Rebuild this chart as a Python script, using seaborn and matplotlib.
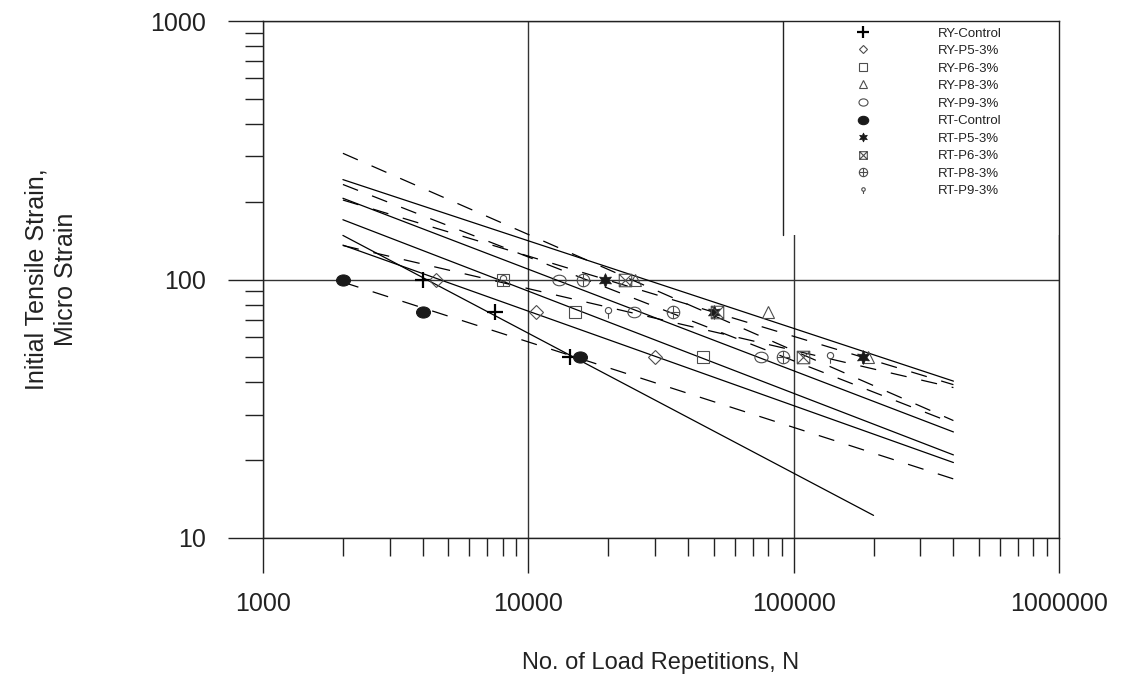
import numpy as np
import pandas as pd
import matplotlib
matplotlib.use('Agg')
import matplotlib.pyplot as plt
import seaborn as sns
from matplotlib.path import Path
from matplotlib.lines import Line2D
from matplotlib.patches import Rectangle
from matplotlib.ticker import FixedLocator, LogLocator, NullFormatter, FuncFormatter

# strain levels (micro strain) and load repetitions
strain = [100, 75, 50]

ry_control = [4000, 7500, 14400]
ry_p5 = [4500, 10700, 30100]
ry_p6 = [8000, 15000, 45400]
ry_p8 = [25300, 79800, 190000]
ry_p9 = [13000, 25100, 75000]
rt_control = [2000, 4000, 15700]
rt_p5 = [19500, 49900, 182000]
rt_p6 = [23200, 51600, 108000]
rt_p8 = [16100, 35200, 90800]
rt_p9 = [8000, 20000, 137000]

series_names = ['RY-Control', 'RY-P5-3%', 'RY-P6-3%', 'RY-P8-3%', 'RY-P9-3%',
                'RT-Control', 'RT-P5-3%', 'RT-P6-3%', 'RT-P8-3%', 'RT-P9-3%']
series_reps = [ry_control, ry_p5, ry_p6, ry_p8, ry_p9,
               rt_control, rt_p5, rt_p6, rt_p8, rt_p9]

# range over which each fatigue line is drawn
fit_start = [2000] * 10
fit_end = [200000, 400000, 400000, 400000, 400000,
           400000, 400000, 400000, 400000, 400000]

x_ticks = [1000, 10000, 100000, 1000000]
y_ticks = [10, 100, 1000]


# ---- custom marker shapes
circ = Path.unit_circle()
ellipse = Path(circ.vertices * [1.0, 0.8], circ.codes)
box_x = Path([[-1, -1], [1, -1], [1, 1], [-1, 1], [-1, -1], [1, 1], [-1, 1], [1, -1]],
             [1, 2, 2, 2, 2, 2, 1, 2])
circle_plus = Path.make_compound_path(circ,
                                      Path([[-1, 0], [1, 0]], [1, 2]),
                                      Path([[0, -1], [0, 1]], [1, 2]))
small_circ = Path(circ.vertices * 0.5 + [0, 0.3], circ.codes)
lollipop = Path.make_compound_path(small_circ, Path([[0, -0.2], [0, -1.0]], [1, 2]))

gray = '#4d4d4d'
styles = {
    'RY-Control': dict(marker='+', ms=11, mec='black', mew=1.6, mfc='none'),
    'RY-P5-3%': dict(marker='D', ms=6.8, mec=gray, mew=0.8, mfc='none'),
    'RY-P6-3%': dict(marker='s', ms=9, mec=gray, mew=0.8, mfc='none'),
    'RY-P8-3%': dict(marker='^', ms=9, mec=gray, mew=0.8, mfc='none'),
    'RY-P9-3%': dict(marker=ellipse, ms=9.5, mec=gray, mew=0.8, mfc='none'),
    'RT-Control': dict(marker=ellipse, ms=10, mec='#1a1a1a', mew=0.8, mfc='#1a1a1a'),
    'RT-P5-3%': dict(marker=(6, 1, 0), ms=10, mec='#1a1a1a', mew=0.5, mfc='#1a1a1a'),
    'RT-P6-3%': dict(marker=box_x, ms=9, mec=gray, mew=0.8, mfc='none'),
    'RT-P8-3%': dict(marker=circle_plus, ms=9, mec=gray, mew=0.8, mfc='none'),
    'RT-P9-3%': dict(marker=lollipop, ms=9, mec=gray, mew=0.8, mfc='none'),
}
legend_ms = {'RY-Control': 9, 'RY-P5-3%': 4.2, 'RY-P6-3%': 6, 'RY-P8-3%': 5.5,
             'RY-P9-3%': 6.5, 'RT-Control': 7.5, 'RT-P5-3%': 6.5, 'RT-P6-3%': 5.5,
             'RT-P8-3%': 6, 'RT-P9-3%': 5}

sns.set_theme(style='white')
plt.rcParams['font.family'] = ['Liberation Sans', 'DejaVu Sans']

df = pd.DataFrame({
    'series': np.repeat(series_names, len(strain)),
    'N': np.concatenate(series_reps),
    'strain': np.tile(strain, len(series_names)),
})

fig = plt.figure(figsize=(11.26, 6.81), dpi=100)
ax = fig.add_axes([0.2336, 0.21, 0.7069, 0.759])
ax.set_xscale('log')
ax.set_yscale('log')

# fitted fatigue lines (log-log regression of each mix)
for i, name in enumerate(series_names):
    sub = df[df['series'] == name]
    b, a = np.polyfit(np.log10(sub['N']), np.log10(sub['strain']), 1)
    xs = np.geomspace(fit_start[i], fit_end[i], 40)
    ys = 10 ** (a + b * np.log10(xs))
    ls = '-' if name.startswith('RY') else (0, (13, 12))
    sns.lineplot(x=xs, y=ys, ax=ax, color='black', lw=0.9, linestyle=ls,
                 sort=False, zorder=2)

# measured points
for name in series_names:
    sub = df[df['series'] == name]
    ax.plot(sub['N'], sub['strain'], ls='none', zorder=3, **styles[name])

ax.set_xlim(1000, 1000000)
ax.set_ylim(10, 1000)

ax.xaxis.set_major_locator(FixedLocator(x_ticks))
ax.yaxis.set_major_locator(FixedLocator(y_ticks))
ax.xaxis.set_minor_locator(LogLocator(base=10, subs=np.arange(2, 10)))
ax.yaxis.set_minor_locator(LogLocator(base=10, subs=np.arange(2, 10)))
ax.xaxis.set_major_formatter(FuncFormatter(lambda v, p: '%d' % v))
ax.yaxis.set_major_formatter(FuncFormatter(lambda v, p: '%d' % v))
ax.xaxis.set_minor_formatter(NullFormatter())
ax.yaxis.set_minor_formatter(NullFormatter())

ax.tick_params(which='both', direction='out', color='#222222', width=1,
               bottom=True, left=True, top=False, right=False, labelsize=18,
               labelcolor='#222222')
ax.tick_params(which='major', length=25)
ax.tick_params(which='minor', length=13)
ax.tick_params(axis='x', which='major', pad=14)
ax.tick_params(axis='y', which='major', pad=16)

ax.grid(which='major', color='#333333', lw=1)
ax.set_axisbelow(True)
for sp in ax.spines.values():
    sp.set_color('#222222')
    sp.set_linewidth(1)

ax.set_xlabel('No. of Load Repetitions, N', fontsize=17, color='#222222')
ax.set_ylabel('Initial Tensile Strain,\nMicro Strain', fontsize=18, color='#222222',
              linespacing=1.25)
ax.xaxis.set_label_coords(0.5, -0.22)
ax.yaxis.set_label_coords(-0.233, 0.5)

# legend box in the upper right corner
ax.add_patch(Rectangle((0.653, 0.586), 0.347, 0.414, transform=ax.transAxes,
                       facecolor='white', edgecolor='none', zorder=1.5))
ax.plot([0.653, 0.653], [0.586, 1.0], transform=ax.transAxes, color='#222222',
        lw=1, zorder=1.6)

handles = []
for name in series_names:
    st = dict(styles[name])
    st['ms'] = legend_ms[name]
    handles.append(Line2D([], [], ls='none', **st))
leg = ax.legend(handles, series_names, loc='upper left', bbox_to_anchor=(0.745, 0.988),
                frameon=False, fontsize=9.5, handlelength=1.0, handletextpad=5.2,
                labelspacing=0.4, borderpad=0, borderaxespad=0)
for t in leg.get_texts():
    t.set_color('#222222')

fig.savefig('out.png', dpi=100)
